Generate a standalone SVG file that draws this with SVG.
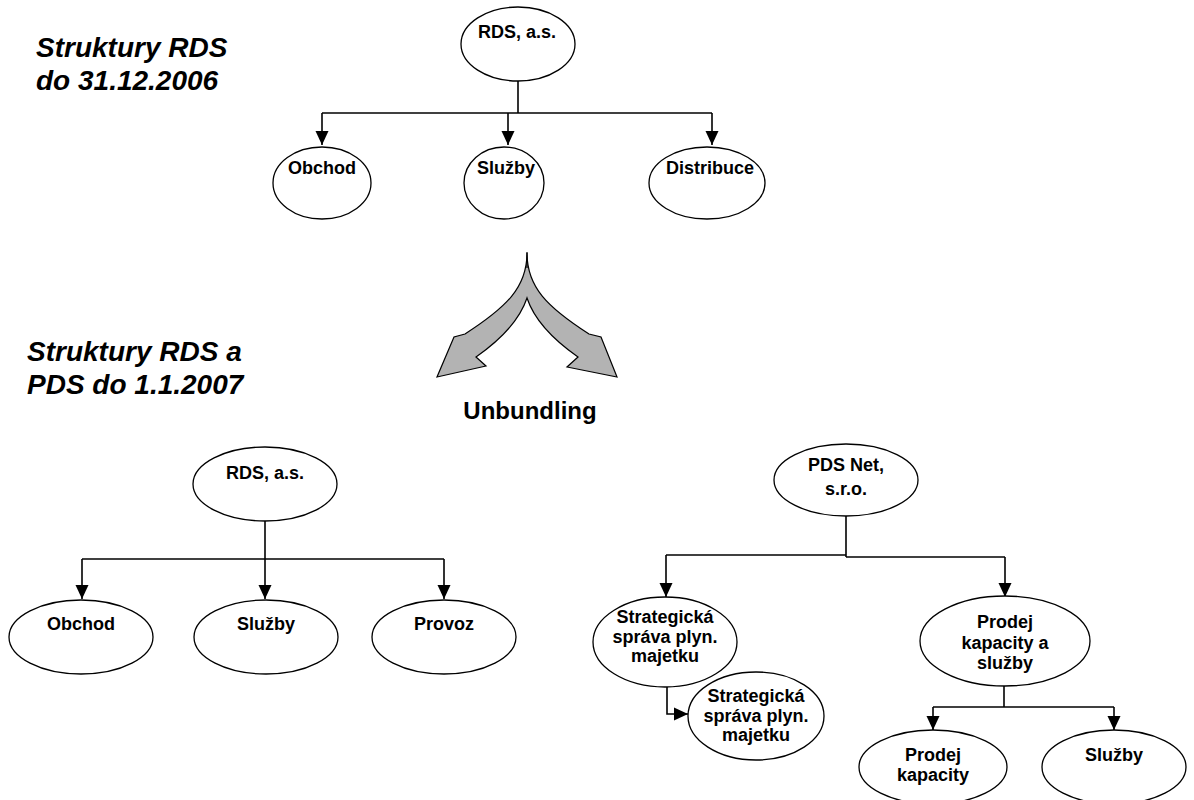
<svg xmlns="http://www.w3.org/2000/svg" width="1194" height="800" viewBox="0 0 1194 800">
<style>
.n ellipse{fill:#fff;stroke:#000;stroke-width:1.3}
.n text{font-family:"Liberation Sans",Arial,sans-serif;font-weight:bold;font-size:18px;text-anchor:middle;fill:#000}
.title{font-family:"Liberation Sans",Arial,sans-serif;font-weight:bold;font-style:italic;font-size:28px;fill:#000}
.lbl{font-family:"Liberation Sans",Arial,sans-serif;font-weight:bold;font-size:24px;fill:#000;text-anchor:middle}
#connectors path{fill:none;stroke:#000;stroke-width:1.6}
</style>
<defs>
<marker id="ah" markerUnits="userSpaceOnUse" markerWidth="14" markerHeight="14" refX="14" refY="7" orient="auto">
<path d="M0,0.5 L14,7 L0,13.5 z" fill="#000"/>
</marker>
</defs>
<rect width="1194" height="800" fill="#fff"/>
<text class="title"><tspan x="36" y="57">Struktury RDS</tspan><tspan x="36" y="90">do 31.12.2006</tspan></text>
<text class="title"><tspan x="27" y="361">Struktury RDS a</tspan><tspan x="27" y="394">PDS do 1.1.2007</tspan></text>
<g id="unbundling-arrow">
<path d="M527,253 C527,287 507,307 465,334 L454,337 L437,377 L486,366 L476,357 C506,336 521,316 527,298 C533,316 548,336 578,357 L567,367 L617,377 L601,337 L589,334 C547,307 527,287 527,253 Z" fill="#b3b3b3" stroke="#000" stroke-width="1.2" stroke-linejoin="miter"/>
<line x1="527" y1="252" x2="527" y2="268" stroke="#000" stroke-width="1.2"/>
</g>
<text class="lbl" x="530" y="419">Unbundling</text>
<g id="connectors">
<path d="M518,81 V113"/>
<path d="M322,113 H712"/>
<path d="M322,113 V145" marker-end="url(#ah)"/>
<path d="M508,113 V145" marker-end="url(#ah)"/>
<path d="M712,113 V145" marker-end="url(#ah)"/>
<path d="M265,521 V559"/>
<path d="M82,559 H444"/>
<path d="M82,559 V599" marker-end="url(#ah)"/>
<path d="M265,559 V599" marker-end="url(#ah)"/>
<path d="M444,559 V599" marker-end="url(#ah)"/>
<path d="M846,516 V557"/>
<path d="M666,555 H846"/>
<path d="M846,557 H1005"/>
<path d="M666,555 V597" marker-end="url(#ah)"/>
<path d="M1005,557 V597" marker-end="url(#ah)"/>
<path d="M667,687 V714 H688" marker-end="url(#ah)"/>
<path d="M1004,686 V707"/>
<path d="M933,707 H1114"/>
<path d="M933,707 V730" marker-end="url(#ah)"/>
<path d="M1114,707 V730" marker-end="url(#ah)"/>
</g>
<g id="n-rds-top" class="n"><ellipse cx="518" cy="44" rx="57" ry="37"/><text x="517" y="38">RDS, a.s.</text></g>
<g id="n-obchod-top" class="n"><ellipse cx="322" cy="183" rx="49" ry="36"/><text x="322" y="174">Obchod</text></g>
<g id="n-sluzby-top" class="n"><ellipse cx="504" cy="183" rx="40" ry="36"/><text x="506" y="174">Služby</text></g>
<g id="n-distribuce-top" class="n"><ellipse cx="707" cy="183" rx="58" ry="36"/><text x="710" y="174">Distribuce</text></g>
<g id="n-rds-low" class="n"><ellipse cx="265" cy="484" rx="72" ry="37"/><text x="265" y="479">RDS, a.s.</text></g>
<g id="n-obchod-low" class="n"><ellipse cx="81" cy="637" rx="72" ry="37"/><text x="81" y="630">Obchod</text></g>
<g id="n-sluzby-low" class="n"><ellipse cx="266" cy="637" rx="72" ry="37"/><text x="266" y="630">Služby</text></g>
<g id="n-provoz" class="n"><ellipse cx="444" cy="637" rx="72" ry="37"/><text x="444" y="630">Provoz</text></g>
<g id="n-pdsnet" class="n"><ellipse cx="846" cy="480" rx="72" ry="36"/><text x="846" y="471">PDS Net,</text><text x="846" y="495">s.r.o.</text></g>
<g id="n-strat1" class="n"><ellipse cx="665" cy="642" rx="72" ry="45"/><text x="665" y="623">Strategická</text><text x="665" y="643">správa plyn.</text><text x="665" y="662">majetku</text></g>
<g id="n-strat2" class="n"><ellipse cx="756" cy="716" rx="68" ry="44"/><text x="756" y="702">Strategická</text><text x="756" y="722">správa plyn.</text><text x="756" y="741">majetku</text></g>
<g id="n-prodej-sluzby" class="n"><ellipse cx="1005" cy="641" rx="85" ry="45"/><text x="1005" y="628">Prodej</text><text x="1005" y="649">kapacity a</text><text x="1005" y="669">služby</text></g>
<g id="n-prodej-kap" class="n"><ellipse cx="933" cy="767" rx="74" ry="37"/><text x="933" y="761">Prodej</text><text x="933" y="781">kapacity</text></g>
<g id="n-sluzby-pds" class="n"><ellipse cx="1114" cy="767" rx="72" ry="37"/><text x="1114" y="761">Služby</text></g>
</svg>
